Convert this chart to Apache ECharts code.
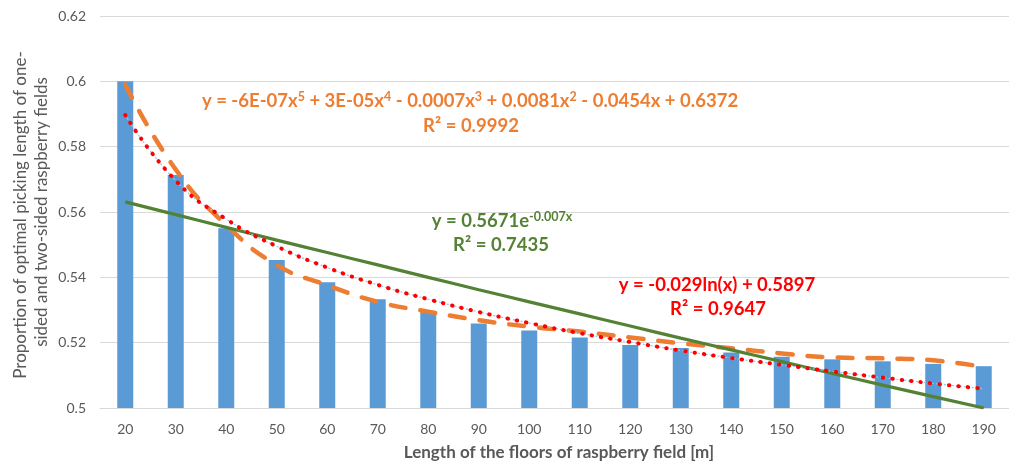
<!DOCTYPE html>
<html><head><meta charset="utf-8">
<script src="https://cdn.jsdelivr.net/npm/echarts@6/dist/echarts.min.js"></script>
<style>html,body{margin:0;padding:0;background:#fff}#c{width:1009px;height:466px}</style>
</head><body><div id="c"></div>
<script>
// Categories (length of floors, m)
const categories = ['20','30','40','50','60','70','80','90','100','110','120','130','140','150','160','170','180','190'];
// Bar values (proportion)
const barValues = [0.600,0.5713,0.555,0.5453,0.5385,0.5333,0.5293,0.5259,0.5237,0.5216,0.5193,0.5184,0.5170,0.5157,0.5149,0.5143,0.5135,0.5128];
// Polynomial (order 5) trendline read at each category
const polyTrend = [0.599,0.573,0.556,0.5438,0.5376,0.5325,0.5295,0.5269,0.5249,0.5234,0.5216,0.5198,0.5183,0.5167,0.5155,0.5152,0.5146,0.5125];
// Exponential trendline read at each category
const expTrend = [0.5631,0.5592,0.5553,0.5514,0.5476,0.5438,0.5400,0.5362,0.5325,0.5288,0.5251,0.5214,0.5178,0.5142,0.5106,0.5070,0.5035,0.5000];
// Logarithmic trendline read at each category
const logTrend = [0.5897,0.5696,0.5578,0.5495,0.5430,0.5377,0.5333,0.5294,0.5260,0.5229,0.5202,0.5176,0.5153,0.5132,0.5112,0.5093,0.5075,0.5059];
// Axis texts
const xTitle = 'Length of the floors of raspberry field [m]';
const yTitleLines = ['Proportion of optimal picking length of one-', 'sided and two-sided raspberry fields'];

const FONT = 'Lato';
const GRAY = '#595959';
const chart = echarts.init(document.getElementById('c'), null, {renderer: 'canvas'});

function eqText(parts, color, cx, cy) {
  const txt = parts.map(p => '{' + (p[1] ? 's' : 'm') + '|' + p[0] + '}').join('');
  return {
    type: 'text', x: cx, y: cy, z: 100,
    style: {
      text: txt, align: 'center', verticalAlign: 'middle',
      fill: color, fontFamily: FONT, fontWeight: 'bold', fontSize: 18.5,
      rich: {
        m: {fill: color, fontFamily: FONT, fontWeight: 'bold', fontSize: 18.5, lineHeight: 22},
        s: {fill: color, fontFamily: FONT, fontWeight: 'bold', fontSize: 12.5, lineHeight: 13, verticalAlign: 'top'}
      }
    }
  };
}

const option = {
  animation: false,
  grid: {left: 100, right: -9, top: 16, bottom: 58, containLabel: false},
  xAxis: {
    type: 'category', data: categories,
    axisLine: {lineStyle: {color: '#D9D9D9', width: 1}},
    axisTick: {show: false},
    axisLabel: {color: GRAY, fontFamily: FONT, fontSize: 14, margin: 14}
  },
  yAxis: {
    type: 'value', min: 0.5, max: 0.62, interval: 0.02,
    axisLine: {show: false}, axisTick: {show: false},
    splitLine: {lineStyle: {color: '#D9D9D9', width: 1}},
    axisLabel: {color: GRAY, fontFamily: FONT, fontSize: 14, margin: 14,
      formatter: v => String(+v.toFixed(2))}
  },
  series: [
    {type: 'bar', data: barValues, barWidth: 16, itemStyle: {color: '#5B9BD5'}, z: 1},
    {type: 'line', data: polyTrend, smooth: true, symbol: 'none', z: 3,
      lineStyle: {color: '#ED7D31', width: 4.5, type: [15, 15], cap: 'round'}},
    {type: 'line', data: expTrend, smooth: true, symbol: 'none', z: 4,
      lineStyle: {color: '#548235', width: 3.2}},
    {type: 'line', data: logTrend, smooth: true, symbol: 'none', z: 5,
      lineStyle: {color: '#9DC3E6', width: 1.2, type: [2, 2]}},
    {type: 'line', data: logTrend, smooth: true, symbol: 'none', z: 6,
      lineStyle: {color: '#FF0000', width: 4, type: [0.5, 9], cap: 'round'}}
  ],
  graphic: [
    eqText([['y = -6E-07x',0],['5',1],[' + 3E-05x',0],['4',1],[' - 0.0007x',0],['3',1],[' + 0.0081x',0],['2',1],[' - 0.0454x + 0.6372',0]], '#ED7D31', 470, 101),
    eqText([['R² = 0.9992',0]], '#ED7D31', 471, 126),
    eqText([['y = 0.5671e',0],['-0.007x',1]], '#548235', 502, 221),
    eqText([['R² = 0.7435',0]], '#548235', 501, 245),
    eqText([['y = -0.029ln(x) + 0.5897',0]], '#FF0000', 717, 285),
    eqText([['R² = 0.9647',0]], '#FF0000', 718, 309),
    {type: 'text', x: 559, y: 453, style: {text: xTitle, align: 'center', verticalAlign: 'middle',
      fill: GRAY, fontFamily: FONT, fontWeight: 'bold', fontSize: 17}},
    {type: 'text', x: 21, y: 215, rotation: Math.PI / 2, style: {text: yTitleLines[0], align: 'center', verticalAlign: 'middle',
      fill: GRAY, fontFamily: FONT, fontSize: 17}},
    {type: 'text', x: 42, y: 212, rotation: Math.PI / 2, style: {text: yTitleLines[1], align: 'center', verticalAlign: 'middle',
      fill: GRAY, fontFamily: FONT, fontSize: 17}}
  ]
};
chart.setOption(option);
</script></body></html>
